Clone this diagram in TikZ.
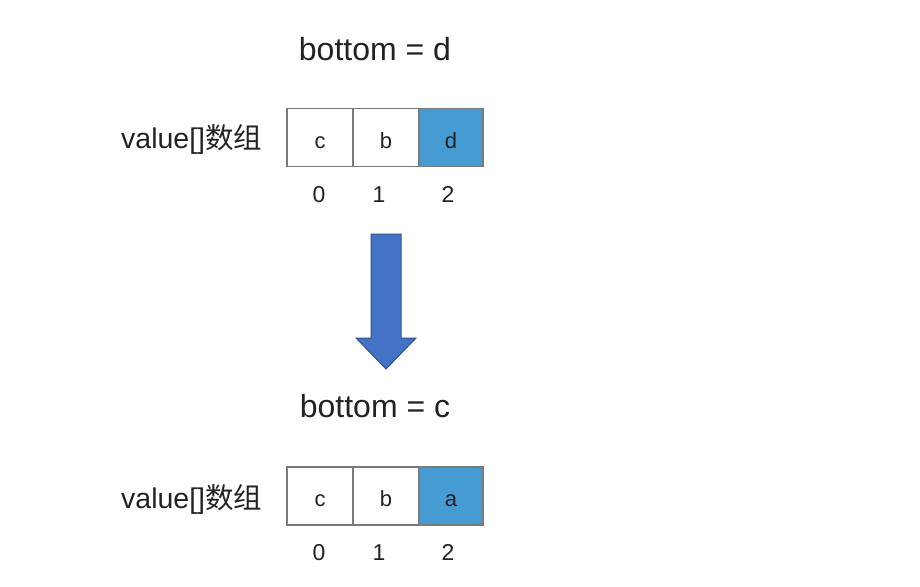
\documentclass[tikz,border=0pt]{standalone}
\usepackage{fontspec}
\setmainfont{Liberation Sans}
\newfontfamily\cjk{Noto Sans CJK SC}
\definecolor{cellblue}{HTML}{479BD3}
\definecolor{cellgray}{HTML}{7A7A7A}
\definecolor{arrowfill}{HTML}{4472C4}
\definecolor{arrowline}{HTML}{2F528F}
\definecolor{txt}{HTML}{222222}
\begin{document}
\begin{tikzpicture}[x=1pt,y=-1pt,
  cell/.style={draw=cellgray,line width=1.8pt,minimum width=66pt,minimum height=58pt,inner sep=0pt,text height=21pt,text depth=0pt,text=txt,font=\fontsize{22}{26}\selectfont},
  hot/.style={cell,fill=cellblue},
  title/.style={anchor=base,text=txt,inner sep=0pt,font=\fontsize{32}{38}\selectfont},
  lbl/.style={anchor=base west,text=txt,inner sep=0pt,font=\fontsize{28.5}{34}\selectfont},
  idx/.style={anchor=base,text=txt,inner sep=0pt,font=\fontsize{23}{28}\selectfont}]
\useasboundingbox[fill=white] (0,0) rectangle (920,586);
% top
\node[title] (t1) at (375,60) {bottom = d};
\node[lbl] (l1) at (121,148) {value[]{\cjk 数组}};
\node[cell,minimum width=66pt] (a0) at (320,137.5) {c};
\node[cell,minimum width=66pt] (a1) at (386,137.5) {b};
\node[hot,minimum width=64pt] (a2) at (451,137.5) {d};
\node[idx] (i0) at (319,202) {0};
\node[idx] (i1) at (379,202) {1};
\node[idx] (i2) at (448,202) {2};
% arrow
\draw[fill=arrowfill,draw=arrowline,line width=1pt,line join=miter]
  (371,234) -- (401,234) -- (401,338) -- (416,338) -- (386,369) -- (356,338) -- (371,338) -- cycle;
% bottom
\node[title] (t2) at (375,417) {bottom = c};
\node[lbl] (l2) at (121,508) {value[]{\cjk 数组}};
\node[cell,minimum width=66pt] (b0) at (320,496) {c};
\node[cell,minimum width=66pt] (b1) at (386,496) {b};
\node[hot,minimum width=64pt] (b2) at (451,496) {a};
\node[idx] (j0) at (319,560) {0};
\node[idx] (j1) at (379,560) {1};
\node[idx] (j2) at (448,560) {2};
\end{tikzpicture}
\end{document}
